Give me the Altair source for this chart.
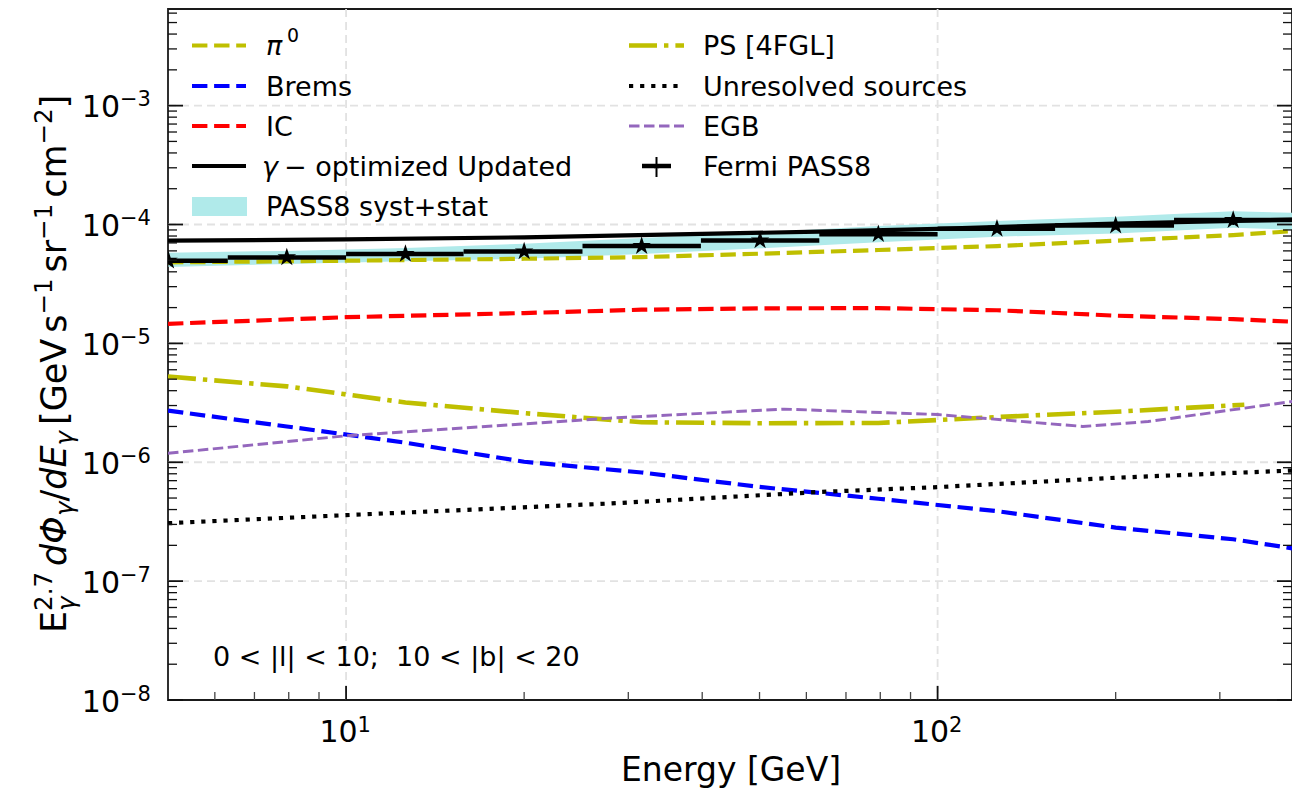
import altair as alt
import pandas as pd

FONT = "DejaVu Sans"
W, H = 1124, 691          # plot area in pixels

# five-pointed star drawn as a custom symbol path
STAR = ("M0,-1L0.225,-0.309L0.951,-0.309L0.363,0.118L0.588,0.809L0,0.382"
        "L-0.588,0.809L-0.363,0.118L-0.951,-0.309L-0.225,-0.309Z")

# ---------------- model components: E^2.7 dPhi/dE  [GeV s^-1 sr^-1 cm^-2] ----------------
pi0_e = [5, 10, 20, 31.6, 50, 79.4, 126, 200, 316, 400]
pi0_flux = [4.8e-5, 4.96e-5, 5.15e-5, 5.32e-5, 5.68e-5, 6.1e-5, 6.58e-5, 7.31e-5, 8.15e-5, 8.8e-5]

brems_e = [5, 7.94, 12.6, 20, 31.6, 50, 79.4, 126, 200, 316, 400]
brems_flux = [2.72e-6, 2.0e-6, 1.46e-6, 1.01e-6, 8.2e-7, 6.2e-7, 4.93e-7, 3.88e-7, 2.82e-7, 2.25e-7, 1.88e-7]

ic_e = [5, 10, 20, 31.6, 50, 79.4, 126, 200, 316, 400]
ic_flux = [1.46e-5, 1.66e-5, 1.8e-5, 1.92e-5, 1.97e-5, 1.98e-5, 1.9e-5, 1.71e-5, 1.6e-5, 1.52e-5]

gamma_e = [5, 10, 20, 40, 63, 100, 200, 400]
gamma_flux = [7.31e-5, 7.5e-5, 7.8e-5, 8.35e-5, 8.7e-5, 9.2e-5, 1.02e-4, 1.1e-4]

ps_e = [5, 7.94, 12.6, 20, 31.6, 50, 79.4, 126, 200, 330]
ps_flux = [5.26e-6, 4.35e-6, 3.18e-6, 2.59e-6, 2.17e-6, 2.13e-6, 2.14e-6, 2.40e-6, 2.66e-6, 3.05e-6]

unres_e = [5, 10, 28, 63, 100, 200, 400]
unres_flux = [3.07e-7, 3.59e-7, 4.5e-7, 5.62e-7, 6.18e-7, 7.41e-7, 8.53e-7]

egb_e = [5, 10, 27.9, 55, 100, 176, 227, 400]
egb_flux = [1.19e-6, 1.67e-6, 2.35e-6, 2.8e-6, 2.52e-6, 2.0e-6, 2.2e-6, 3.26e-6]

# ---------------- Fermi-LAT PASS8 spectrum ----------------
fermi_e = [5.01, 7.94, 12.6, 20.0, 31.6, 50.1, 79.4, 126.0, 200.0, 316.0]
fermi_bin_lo = [3.98, 6.31, 10.0, 15.8, 25.1, 39.8, 63.1, 100.0, 158.0, 251.0]
fermi_bin_hi = [6.31, 10.0, 15.8, 25.1, 39.8, 63.1, 100.0, 158.0, 251.0, 398.0]
fermi_flux = [4.96e-5, 5.29e-5, 5.65e-5, 5.94e-5, 6.58e-5, 7.35e-5, 8.3e-5, 9.2e-5, 9.8e-5, 1.09e-4]
fermi_stat_lo = [4.80e-5, 5.10e-5, 5.43e-5, 5.69e-5, 6.28e-5, 6.98e-5, 7.84e-5, 8.62e-5, 9.07e-5, 9.9e-5]
fermi_stat_hi = [5.12e-5, 5.48e-5, 5.87e-5, 6.19e-5, 6.88e-5, 7.72e-5, 8.76e-5, 9.78e-5, 1.053e-4, 1.19e-4]

# systematic + statistical envelope
band_e = [5.01, 7.94, 12.6, 20.0, 31.6, 50.1, 79.4, 126.0, 200.0, 316.0, 501.0]
band_lo = [4.4e-5, 4.65e-5, 4.9e-5, 5.15e-5, 5.65e-5, 6.3e-5, 7.1e-5, 7.9e-5, 8.4e-5, 9.4e-5, 8.7e-5]
band_hi = [5.8e-5, 6.0e-5, 6.35e-5, 6.9e-5, 7.7e-5, 8.6e-5, 9.7e-5, 1.07e-4, 1.16e-4, 1.29e-4, 1.22e-4]

# ---------------- axes ----------------
x_major = [10, 100]
x_major_exp = ["1", "2"]
x_minor = [6, 7, 8, 9, 20, 30, 40, 50, 60, 70, 80, 90, 200, 300]
y_major = [1e-8, 1e-7, 1e-6, 1e-5, 1e-4, 1e-3]
y_major_exp = ["\u22128", "\u22127", "\u22126", "\u22125", "\u22124", "\u22123"]
y_minor = [k * 10.0 ** p for p in range(-8, -2) for k in range(2, 10) if k * 10.0 ** p < 6.5e-3]

xs = alt.Scale(type="log", domain=[5, 397.3], nice=False)
ys = alt.Scale(type="log", domain=[1e-8, 6.5e-3], nice=False)


def X(field):
    return alt.X(field, type="quantitative", scale=xs, axis=None)


def Y(field):
    return alt.Y(field, type="quantitative", scale=ys, axis=None)


one = pd.DataFrame({"k": [0]})
layers = []

# dashed grid at the decades
grid_style = dict(color="#e2e2e2", strokeWidth=1.8, strokeDash=[8, 5])
layers.append(alt.Chart(pd.DataFrame({"v": x_major})).mark_rule(**grid_style)
              .encode(x=X("v"), y=alt.value(0), y2=alt.value(H)))
layers.append(alt.Chart(pd.DataFrame({"v": y_major[1:]})).mark_rule(**grid_style)
              .encode(y=Y("v"), x=alt.value(0), x2=alt.value(W)))

# envelope
BAND = "#b0eaea"
layers.append(alt.Chart(pd.DataFrame({"e": band_e, "lo": band_lo, "hi": band_hi}))
              .mark_area(color=BAND, opacity=1, clip=True)
              .encode(x=X("e"), y=Y("lo"), y2=alt.Y2("hi")))


def curve(e, f, color, width, dash=None):
    style = dict(color=color, strokeWidth=width, clip=True, strokeJoin="round")
    if dash:
        style.update(strokeDash=dash, strokeCap="butt")
    return (alt.Chart(pd.DataFrame({"e": e, "f": f})).mark_line(**style)
            .encode(x=X("e"), y=Y("f")))


OLIVE = "#bfbf00"
DASH = [15.4, 6.7]
DASHDOT = [28, 7, 4.4, 7]
DOT = [4.2, 6.9]
EGBDASH = [10.5, 4.5]
PURPLE = "#9467bd"

layers.append(curve(pi0_e, pi0_flux, OLIVE, 4.2, DASH))
layers.append(curve(brems_e, brems_flux, "#0000ff", 4.2, DASH))
layers.append(curve(ic_e, ic_flux, "#ff0000", 4.2, DASH))
layers.append(curve(gamma_e, gamma_flux, "black", 4.2))
layers.append(curve(ps_e, ps_flux, OLIVE, 4.6, DASHDOT))
layers.append(curve(unres_e, unres_flux, "black", 4.2, DOT))
layers.append(curve(egb_e, egb_flux, PURPLE, 2.9, EGBDASH))

# Fermi spectrum: bin widths, error bars and star markers
fermi = pd.DataFrame({"e": fermi_e, "lo": fermi_bin_lo, "hi": fermi_bin_hi, "f": fermi_flux,
                      "elo": fermi_stat_lo, "ehi": fermi_stat_hi})
layers.append(alt.Chart(fermi).mark_rule(color="black", strokeWidth=4.5, clip=True)
              .encode(x=X("lo"), x2=alt.X2("hi"), y=Y("f")))
layers.append(alt.Chart(fermi).mark_rule(color="black", strokeWidth=2, clip=True)
              .encode(x=X("e"), y=Y("elo"), y2=alt.Y2("ehi")))
layers.append(alt.Chart(fermi).mark_point(shape=STAR, filled=True, size=380, color="black",
                                          opacity=1, strokeWidth=0, clip=True)
              .encode(x=X("e"), y=Y("f")))

# inward ticks on left, right and bottom
TICK = "#111111"
ym = pd.DataFrame({"v": y_major, "t": y_major_exp})
yn = pd.DataFrame({"v": y_minor})
xm = pd.DataFrame({"v": x_major, "t": x_major_exp})
xn = pd.DataFrame({"v": x_minor})
layers.append(alt.Chart(ym).mark_rule(color=TICK, strokeWidth=1.8)
              .encode(y=Y("v"), x=alt.value(0), x2=alt.value(15)))
layers.append(alt.Chart(ym).mark_rule(color=TICK, strokeWidth=1.8)
              .encode(y=Y("v"), x=alt.value(W - 15), x2=alt.value(W)))
layers.append(alt.Chart(yn).mark_rule(color=TICK, strokeWidth=1.3)
              .encode(y=Y("v"), x=alt.value(0), x2=alt.value(9)))
layers.append(alt.Chart(yn).mark_rule(color=TICK, strokeWidth=1.3)
              .encode(y=Y("v"), x=alt.value(W - 9), x2=alt.value(W)))
layers.append(alt.Chart(xm).mark_rule(color=TICK, strokeWidth=1.8)
              .encode(x=X("v"), y=alt.value(H - 14), y2=alt.value(H)))
layers.append(alt.Chart(xn).mark_rule(color="#444444", strokeWidth=1.3)
              .encode(x=X("v"), y=alt.value(H - 8), y2=alt.value(H)))

# tick labels written as 10 with a raised exponent
TL = 30
layers.append(alt.Chart(ym).mark_text(text="10", font=FONT, fontSize=TL, align="right",
                                      baseline="alphabetic", dy=11.5, color="black")
              .encode(y=Y("v"), x=alt.value(-48)))
layers.append(alt.Chart(ym).mark_text(font=FONT, fontSize=TL * 0.7, align="left",
                                      baseline="alphabetic", dy=0.5, color="black")
              .encode(y=Y("v"), x=alt.value(-48), text="t:N"))
layers.append(alt.Chart(xm).mark_text(text="10", font=FONT, fontSize=TL, align="right",
                                      baseline="alphabetic", dx=11.5, color="black")
              .encode(x=X("v"), y=alt.value(H + 41.7)))
layers.append(alt.Chart(xm).mark_text(font=FONT, fontSize=TL * 0.7, align="left",
                                      baseline="alphabetic", dx=11.5, color="black")
              .encode(x=X("v"), y=alt.value(H + 31.7), text="t:N"))


def label(txt, x, y, size, align="left", italic=False, angle=0, color="black"):
    return (alt.Chart(one).mark_text(text=txt, font=FONT, fontSize=size, align=align,
                                     baseline="alphabetic", angle=angle, color=color,
                                     fontStyle="italic" if italic else "normal")
            .encode(x=alt.value(x), y=alt.value(y)))


# x title
layers.append(label("Energy [GeV]", 563, H + 81, 33, align="center"))

# y title, set piece by piece so that sub- and superscripts can be stacked
ADV = {"E": .632, "2": .636, ".": .318, "7": .636, "d": .635, "\u03a6": .790, "\u03b3": .592,
       "/": .337, "[": .390, "G": .775, "e": .615, "V": .684, "s": .521, "\u2212": .838,
       "1": .636, "r": .411, "c": .550, "m": .974, "]": .390}
T = 35
S = T * 0.7
GAP = 0.17 * T
Y_BASE = -102
pieces = []
cursor = [624.0]


def put(text, size, italic=False, shift=0.0, advance=True):
    pieces.append((text, size, italic, shift, cursor[0]))
    if advance:
        cursor[0] -= sum(ADV[c] for c in text) * size


put("E", T)
put("\u03b3", S, True, -9, advance=False)
put("2.7", S, False, 14)
cursor[0] -= GAP
put("d\u03a6", T, True)
put("\u03b3", S, True, -7)
put("/", T)
put("dE", T, True)
put("\u03b3", S, True, -7)
cursor[0] -= GAP
put("[GeV", T)
cursor[0] -= GAP
put("s", T)
put("\u22121", S, False, 14)
cursor[0] -= GAP
put("sr", T)
put("\u22121", S, False, 14)
cursor[0] -= GAP
put("cm", T)
put("\u22122", S, False, 14)
put("]", T)

for text, size, italic, shift, pos in pieces:
    layers.append(label(text, Y_BASE - shift, pos, size, italic=italic, angle=270))

# region annotation
layers.append(label("0 < |l| < 10;\u00a0 10 < |b| < 20", 45, 657, 27))

# legend, two columns
LF = 27


def hline(x1, x2, y, color, width, dash=None):
    style = dict(color=color, strokeWidth=width)
    if dash:
        style.update(strokeDash=dash, strokeCap="butt")
    return alt.Chart(one).mark_rule(**style).encode(x=alt.value(x1), x2=alt.value(x2), y=alt.value(y))


rows = [36.5, 77, 117, 157, 197]
layers.append(hline(24, 78, rows[0], OLIVE, 4.2, DASH))
layers.append(hline(24, 78, rows[1], "#0000ff", 4.2, DASH))
layers.append(hline(24, 78, rows[2], "#ff0000", 4.2, DASH))
layers.append(hline(24, 78, rows[3], "black", 4.2))
layers.append(alt.Chart(one).mark_rect(color=BAND)
              .encode(x=alt.value(24), x2=alt.value(79), y=alt.value(188), y2=alt.value(207)))
layers.append(label("\u03c0", 98, rows[0] + 9.5, LF, italic=True))
layers.append(label("0", 119, rows[0] - 3.5, LF * 0.7))
layers.append(label("Brems", 98, rows[1] + 9.5, LF))
layers.append(label("IC", 98, rows[2] + 9.5, LF))
layers.append(label("\u03b3", 94, rows[3] + 9.5, LF, italic=True))
layers.append(label("\u2212 optimized Updated", 116, rows[3] + 9.5, LF))
layers.append(label("PASS8 syst+stat", 98, rows[4] + 9.5, LF))

layers.append(hline(461, 516, rows[0], OLIVE, 4.4, DASHDOT))
layers.append(hline(461, 511, rows[1], "black", 4.2, DOT))
layers.append(hline(461, 516, rows[2], PURPLE, 2.9, EGBDASH))
layers.append(hline(474, 503, rows[3], "black", 4.5))
layers.append(alt.Chart(one).mark_rule(color="black", strokeWidth=2)
              .encode(x=alt.value(488.5), y=alt.value(rows[3] - 9), y2=alt.value(rows[3] + 11)))
layers.append(alt.Chart(one).mark_point(shape=STAR, filled=True, size=50, color="black",
                                        opacity=1, strokeWidth=0)
              .encode(x=alt.value(488.5), y=alt.value(rows[3])))
layers.append(label("PS [4FGL]", 535, rows[0] + 9.5, LF))
layers.append(label("Unresolved sources", 535, rows[1] + 9.5, LF))
layers.append(label("EGB", 535, rows[2] + 9.5, LF))
layers.append(label("Fermi PASS8", 535, rows[3] + 9.5, LF))

chart = (
    alt.layer(*layers)
    .properties(width=W, height=H, background="white",
                autosize=alt.AutoSizeParams(type="none"),
                padding={"left": 168, "top": 9, "right": 0, "bottom": 92})
    .configure_view(stroke="#1a1a1a", strokeWidth=1.8)
)

chart.save("out.html", embed_options={"renderer": "svg", "actions": False})
